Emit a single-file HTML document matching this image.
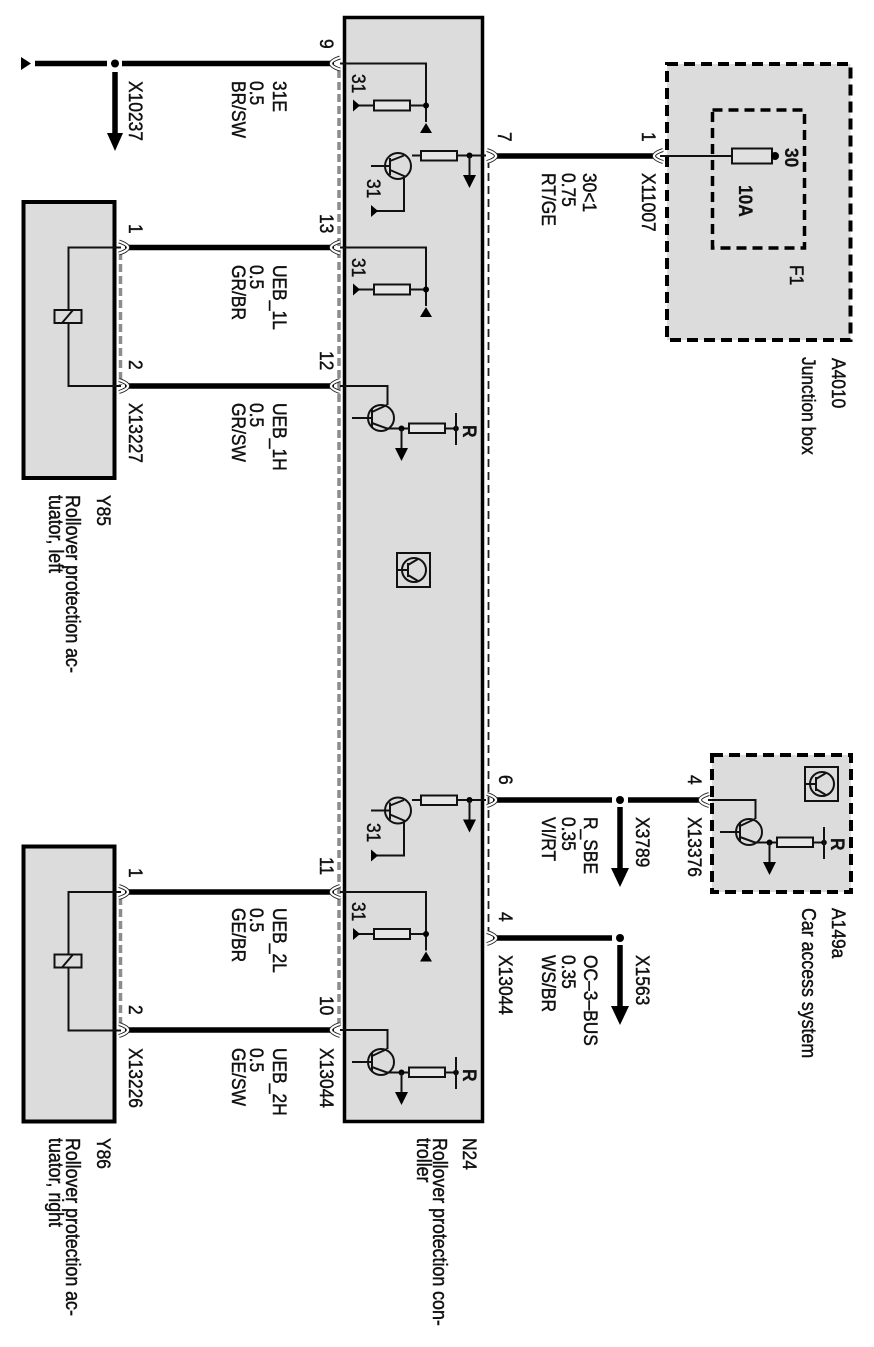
<!DOCTYPE html>
<html><head><meta charset="utf-8"><style>
html,body{margin:0;padding:0;background:#fff}
svg{display:block}
text{font-family:"Liberation Sans",Arial,sans-serif;font-size:17.4px;fill:#111;stroke:#111;stroke-width:.4}
.c{font-size:17.8px}
.b{font-weight:bold;stroke-width:.2}
.w{stroke:#000;stroke-width:5.5;fill:none}
.t{stroke:#111;stroke-width:2;fill:none}
.r{stroke:#111;stroke-width:2;fill:#e6e6e6}
</style></head><body>
<svg width="874" height="1347" viewBox="0 0 874 1347" xmlns="http://www.w3.org/2000/svg">
<defs>
<g id="gndres">
<path class="t" d="M340 63.5H426V122"/>
<path class="t" d="M426 105.5H358"/>
<rect class="r" x="374" y="100.500" width="36" height="10"/>
<circle cx="426" cy="105.500" r="3" fill="#000"/>
<path d="M426 123L432 133H420Z" fill="#000"/>
<path d="M360 105.500L353 99.500V111.500Z" fill="#000"/>
</g>
<g id="t1">
<path class="t" d="M412 155.500H486"/>
<rect class="r" x="421" y="151" width="36" height="9.500"/>
<circle cx="398" cy="166" r="13" fill="none" stroke="#111" stroke-width="2"/>
<path class="t" d="M371 166H390M390 158V175M390 161L404 155.500M390 170L404 176V211H376"/>
<circle cx="469.500" cy="155.500" r="3" fill="#000"/>
<path class="t" d="M469.500 155.500V176"/>
<path d="M463 175H476L469.500 188Z" fill="#000"/>
<path d="M378 211L371 205V217Z" fill="#000"/>
</g>
<g id="t2">
<path class="t" d="M340 386H387.500V405"/>
<circle cx="381" cy="418" r="13" fill="none" stroke="#111" stroke-width="2"/>
<path class="t" d="M352 418H372M372 409V427M372 412L387 405M372 423L387 428.500H457"/>
<rect class="r" x="409" y="423.500" width="36" height="9.500"/>
<circle cx="401.500" cy="428.500" r="3" fill="#000"/>
<circle cx="456" cy="428.500" r="2.800" fill="#000"/>
<path class="t" d="M456 413V445"/>
<path class="t" d="M401.500 428.500V449"/>
<path d="M395 448H408L401.500 461Z" fill="#000"/>
</g>
<g id="rel">
<path class="t" d="M121 247.500H68.500V386H121"/>
<rect x="54.500" y="310" width="27" height="13" fill="#dcdcdc" stroke="#111" stroke-width="2"/>
<path class="t" d="M62 323L73 310"/>
</g>
<path id="cl" d="M340 -6Q331 -3 331 0Q331 3 340 6" fill="none"/>
<g id="icon">
<rect x="397" y="553" width="33" height="34" fill="#dcdcdc" stroke="#111" stroke-width="2"/>
<circle cx="414" cy="570" r="12" fill="none" stroke="#111" stroke-width="2"/>
<path class="t" d="M397 570H408M408 563V577M408 565L418 559M408 575L418 581"/>
</g>
</defs>

<!-- boxes -->
<rect x="344.500" y="17.500" width="138" height="1104" fill="#dcdcdc" stroke="#000" stroke-width="3.500"/>
<rect x="23.500" y="202" width="91" height="276" fill="#dcdcdc" stroke="#000" stroke-width="4"/>
<rect x="23.500" y="846.500" width="91" height="275" fill="#dcdcdc" stroke="#000" stroke-width="4"/>
<rect x="667" y="64" width="183.500" height="276" fill="#dcdcdc" stroke="#000" stroke-width="4" stroke-dasharray="11 6"/>
<rect x="712.500" y="110" width="92" height="138" fill="#dcdcdc" stroke="#000" stroke-width="3.500" stroke-dasharray="10 6"/>
<rect x="712" y="755" width="139" height="137" fill="#dcdcdc" stroke="#000" stroke-width="4" stroke-dasharray="11 6"/>

<!-- dashed connector housings -->
<path d="M339 70V1030" stroke="#8c8c8c" stroke-width="3.500" stroke-dasharray="8 4" fill="none"/>
<path d="M120.500 252V385M120.500 897V1029" stroke="#8c8c8c" stroke-width="3.500" stroke-dasharray="8 4" fill="none"/>
<path d="M488.500 160V932" stroke="#222" stroke-width="1.800" stroke-dasharray="8 5" fill="none"/>

<!-- wires -->
<path class="w" d="M35 63.500H107M122 63.500H334"/>
<path class="w" d="M125 247.500H334M125 386H334M125 892H334M125 1030H334" stroke-width="6"/>
<path class="w" d="M494 156H655"/>
<path class="w" d="M493 800H612M628 800H701M493 938H612"/>

<!-- ground top-left -->
<path d="M31 63.500L21 57V70Z" fill="#000"/>

<!-- junction dots and arrows -->
<circle cx="115" cy="63.500" r="4" fill="#000"/>
<path d="M115 72V134" stroke="#000" stroke-width="5.500"/>
<path d="M107 133H123L115 151Z" fill="#000"/>
<circle cx="620" cy="800" r="4" fill="#000"/>
<path d="M620 807V869" stroke="#000" stroke-width="5.500"/>
<path d="M611 868H629L620 887Z" fill="#000"/>
<circle cx="620" cy="938" r="4" fill="#000"/>
<path d="M620 945V1007" stroke="#000" stroke-width="5.500"/>
<path d="M611 1006H629L620 1025Z" fill="#000"/>

<!-- internal circuits -->
<use href="#gndres"/>
<use href="#gndres" y="184"/>
<use href="#gndres" y="828.500"/>
<use href="#t1"/>
<use href="#t1" y="644.500"/>
<use href="#t2"/>
<use href="#t2" y="644"/>
<use href="#t2" transform="translate(368 414)"/>
<use href="#icon"/>
<use href="#icon" transform="translate(408 214)"/>
<use href="#rel"/>
<use href="#rel" y="644.500"/>

<!-- fuse -->
<path class="t" d="M660 156H732"/>
<rect x="732" y="148.500" width="40" height="15" fill="#e0e0e0" stroke="#111" stroke-width="2"/>
<circle cx="775" cy="156" r="4" fill="#000"/>

<!-- connector sockets -->
<g fill="none">
<g stroke="#222" stroke-width="4">
<use href="#cl" y="63.500"/><use href="#cl" y="247.500"/><use href="#cl" y="386"/><use href="#cl" y="892"/><use href="#cl" y="1030"/>
<use href="#cl" x="323" y="156"/><use href="#cl" x="369" y="800"/>
<use href="#cl" transform="translate(459 247.500) scale(-1 1)"/><use href="#cl" transform="translate(459 386) scale(-1 1)"/><use href="#cl" transform="translate(459 892) scale(-1 1)"/><use href="#cl" transform="translate(459 1030) scale(-1 1)"/>
<use href="#cl" transform="translate(827 156) scale(-1 1)"/><use href="#cl" transform="translate(827 800) scale(-1 1)"/><use href="#cl" transform="translate(827 938) scale(-1 1)"/>
</g>
<g stroke="#fff" stroke-width="2.200">
<use href="#cl" y="63.500"/><use href="#cl" y="247.500"/><use href="#cl" y="386"/><use href="#cl" y="892"/><use href="#cl" y="1030"/>
<use href="#cl" x="323" y="156"/><use href="#cl" x="369" y="800"/>
<use href="#cl" transform="translate(459 247.500) scale(-1 1)"/><use href="#cl" transform="translate(459 386) scale(-1 1)"/><use href="#cl" transform="translate(459 892) scale(-1 1)"/><use href="#cl" transform="translate(459 1030) scale(-1 1)"/>
<use href="#cl" transform="translate(827 156) scale(-1 1)"/><use href="#cl" transform="translate(827 800) scale(-1 1)"/><use href="#cl" transform="translate(827 938) scale(-1 1)"/>
</g>
</g>

<!-- labels -->
<g>
<text transform="translate(320 39) rotate(90) scale(1 1.12)">9</text>
<text transform="translate(273 81) rotate(90) scale(1 1.12)">31E</text>
<text transform="translate(250 81) rotate(90) scale(1 1.12)">0.5</text>
<text transform="translate(232 81) rotate(90) scale(1 1.12)">BR/SW</text>
<text transform="translate(129 81) rotate(90) scale(1 1.12)">X10237</text>
<text transform="translate(352 74) rotate(90) scale(1 1.12)">31</text>
<text transform="translate(367 179) rotate(90) scale(1 1.12)">31</text>
<text transform="translate(352 258) rotate(90) scale(1 1.12)">31</text>
<text transform="translate(367 823) rotate(90) scale(1 1.12)">31</text>
<text transform="translate(352 902) rotate(90) scale(1 1.12)">31</text>

<text transform="translate(129 224) rotate(90) scale(1 1.12)">1</text>
<text transform="translate(129 360) rotate(90) scale(1 1.12)">2</text>
<text transform="translate(320 214) rotate(90) scale(1 1.12)">13</text>
<text transform="translate(320 351) rotate(90) scale(1 1.12)">12</text>
<text transform="translate(129 403) rotate(90) scale(1 1.12)">X13227</text>
<text transform="translate(273 265) rotate(90) scale(1 1.12)">UEB_1L</text>
<text transform="translate(250 265) rotate(90) scale(1 1.12)">0.5</text>
<text transform="translate(232 265) rotate(90) scale(1 1.12)">GR/BR</text>
<text transform="translate(273 403) rotate(90) scale(1 1.12)">UEB_1H</text>
<text transform="translate(250 403) rotate(90) scale(1 1.12)">0.5</text>
<text transform="translate(232 403) rotate(90) scale(1 1.12)">GR/SW</text>

<text transform="translate(129 868) rotate(90) scale(1 1.12)">1</text>
<text transform="translate(129 1005) rotate(90) scale(1 1.12)">2</text>
<text transform="translate(320 857) rotate(90) scale(1 1.12)">11</text>
<text transform="translate(320 996) rotate(90) scale(1 1.12)">10</text>
<text transform="translate(129 1048) rotate(90) scale(1 1.12)">X13226</text>
<text transform="translate(320 1048) rotate(90) scale(1 1.12)">X13044</text>
<text transform="translate(273 908) rotate(90) scale(1 1.12)">UEB_2L</text>
<text transform="translate(250 908) rotate(90) scale(1 1.12)">0.5</text>
<text transform="translate(232 908) rotate(90) scale(1 1.12)">GE/BR</text>
<text transform="translate(273 1048) rotate(90) scale(1 1.12)">UEB_2H</text>
<text transform="translate(250 1048) rotate(90) scale(1 1.12)">0.5</text>
<text transform="translate(232 1048) rotate(90) scale(1 1.12)">GE/SW</text>

<text transform="translate(97 495) rotate(90) scale(1 1.12)">Y85</text>
<text class="c" transform="translate(66 495) rotate(90) scale(1 1.12)">Rollover protection ac-</text>
<text class="c" transform="translate(49 495) rotate(90) scale(1 1.12)">tuator, left</text>
<text transform="translate(97 1138) rotate(90) scale(1 1.12)">Y86</text>
<text class="c" transform="translate(66 1138) rotate(90) scale(1 1.12)">Rollover protection ac-</text>
<text class="c" transform="translate(49 1138) rotate(90) scale(1 1.12)">tuator, right</text>
<text transform="translate(463 1138) rotate(90) scale(1 1.12)">N24</text>
<text class="c" transform="translate(433 1138) rotate(90) scale(1 1.12)">Rollover protection con-</text>
<text class="c" transform="translate(417 1138) rotate(90) scale(1 1.12)">troller</text>

<text transform="translate(498 132) rotate(90) scale(1 1.12)">7</text>
<text transform="translate(642 132) rotate(90) scale(1 1.12)">1</text>
<text transform="translate(642 173) rotate(90) scale(1 1.12)">X11007</text>
<text transform="translate(583 173) rotate(90) scale(1 1.12)">30&lt;1</text>
<text transform="translate(562 173) rotate(90) scale(1 1.12)">0.75</text>
<text transform="translate(542 173) rotate(90) scale(1 1.12)">RT/GE</text>
<text class="b" transform="translate(785 148) rotate(90) scale(1 1.12)">30</text>
<text class="b" transform="translate(739 185) rotate(90) scale(1 1.12)">10A</text>
<text transform="translate(790 265) rotate(90) scale(1 1.12)">F1</text>
<text transform="translate(832 358) rotate(90) scale(1 1.12)">A4010</text>
<text transform="translate(802 357) rotate(90) scale(1 1.12)">Junction box</text>

<text transform="translate(499 775) rotate(90) scale(1 1.12)">6</text>
<text transform="translate(688 775) rotate(90) scale(1 1.12)">4</text>
<text transform="translate(688 817) rotate(90) scale(1 1.12)">X13376</text>
<text transform="translate(636 817) rotate(90) scale(1 1.12)">X3789</text>
<text transform="translate(584 817) rotate(90) scale(1 1.12)">R_SBE</text>
<text transform="translate(562 817) rotate(90) scale(1 1.12)">0.35</text>
<text transform="translate(542 817) rotate(90) scale(1 1.12)">VI/RT</text>
<text transform="translate(499 912) rotate(90) scale(1 1.12)">4</text>
<text transform="translate(499 955) rotate(90) scale(1 1.12)">X13044</text>
<text transform="translate(636 955) rotate(90) scale(1 1.12)">X1563</text>
<text transform="translate(584 955) rotate(90) scale(1 1.12)">OC–3–BUS</text>
<text transform="translate(562 955) rotate(90) scale(1 1.12)">0.35</text>
<text transform="translate(542 955) rotate(90) scale(1 1.12)">WS/BR</text>
<text transform="translate(832 908) rotate(90) scale(1 1.12)">A149a</text>
<text class="c" transform="translate(802 908) rotate(90) scale(1 1.12)">Car access system</text>

<text class="b" transform="translate(463 425) rotate(90) scale(1 1.12)">R</text>
<text class="b" transform="translate(463 1069) rotate(90) scale(1 1.12)">R</text>
<text class="b" transform="translate(831 838) rotate(90) scale(1 1.12)">R</text>
</g>
</svg>
</body></html>
